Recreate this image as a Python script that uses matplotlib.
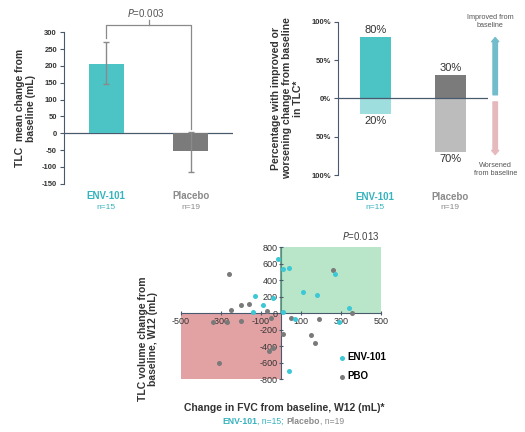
import matplotlib
matplotlib.use("Agg")
import matplotlib.pyplot as plt
from matplotlib.patches import Rectangle, FancyArrowPatch
from matplotlib.offsetbox import TextArea, HPacker, AnnotationBbox

plt.rcParams['font.family'] = ['Liberation Sans', 'DejaVu Sans']

# ---------------- data ----------------
groups = ["ENV-101", "Placebo"]
group_n = ["n=15", "n=19"]
tlc_mean = [207, -53]
tlc_err_low = [145, -115]
tlc_err_high = [270, 3]
p_bar = "0.003"

improved_pct = [80, 30]
worsened_pct = [20, 70]

env_fvc = [-12, 10, 40, 270, 110, 180, -130, -90, -40, -140, 10, 340, 70, 40, 290]
env_tlc = [660, 540, 545, 480, 255, 225, 215, 95, 180, 15, 15, 70, -70, -700, -105]
pbo_fvc = [-260, -250, -200, -160, -70, -340, -270, -200, -50, 260, 50, 190, 355, 10, 150, 170, -60, -40, -310]
pbo_tlc = [480, 40, 100, 110, 30, -110, -110, -95, -60, 525, -60, -65, 0, -255, -260, -355, -460, -425, -605]
p_scatter = "0.013"

left_ticks = [300, 250, 200, 150, 100, 50, 0, -50, -100, -150]
right_ticks = [100, 50, 0, -50, -100]
right_ticklabels = ["100%", "50%", "0%", "50%", "100%"]
sx_ticks = [-500, -300, -100, 100, 300, 500]
sy_ticks = [-800, -600, -400, -200, 0, 200, 400, 600, 800]

# ---------------- style ----------------
TEAL = "#4cc3c5"
TEAL_LIGHT = "#9fdede"
DGRAY = "#7b7b7b"
LGRAY = "#bcbcbc"
TEAL_TXT = "#35b3be"
GRAY_TXT = "#8a8a8a"
SPINE = "#4a5a6e"
PT_CYAN = "#3cc8d6"
PT_GRAY = "#7a7a7a"

fig = plt.figure(figsize=(5.25, 4.32), dpi=100)
W, H = 525, 432

def rect(l, r, t, b):
    return [l / W, 1 - b / H, (r - l) / W, (b - t) / H]

# ---------------- left chart ----------------
ax1 = fig.add_axes(rect(64, 233, 32.3, 183.7))
x = [0, 1]
yerr = [[m - lo for m, lo in zip(tlc_mean, tlc_err_low)],
        [hi - m for m, hi in zip(tlc_mean, tlc_err_high)]]
ax1.bar(x, tlc_mean, width=0.42, color=[TEAL, DGRAY], zorder=2)
ax1.errorbar(x, tlc_mean, yerr=yerr, fmt='none', ecolor="#8a8a8a", elinewidth=1,
             capsize=2.5, capthick=1, zorder=3)
ax1.axhline(0, color=SPINE, lw=0.9, zorder=1)
ax1.set_xlim(-0.5, 1.5)
ax1.set_ylim(-150, 300)
ax1.set_yticks(left_ticks)
ax1.set_yticklabels([str(t) for t in left_ticks], fontsize=5.5, fontweight='bold', color="#333333")
ax1.set_xticks([])
for s in ["top", "right", "bottom"]:
    ax1.spines[s].set_visible(False)
ax1.spines["left"].set_color(SPINE)
ax1.tick_params(axis='y', length=3, width=0.8, color=SPINE, pad=2)
ax1.patch.set_alpha(0)
ax1.set_ylabel("TLC  mean change from\nbaseline (mL)", fontsize=7.5, fontweight='bold',
               color="#333333", labelpad=4, linespacing=1.1)
# bracket
bc = "#8a8a8a"
ax1.plot([0, 0, 1, 1], [284, 323, 323, 14], color=bc, lw=0.9, clip_on=False)
ax1.plot([0.505, 0.505], [323, 337], color=bc, lw=0.9, clip_on=False)
ax1.text(0.47, 356, r"$\it{P}$=" + p_bar, ha='center', va='center', fontsize=7, color="#555555")
cols = [TEAL_TXT, GRAY_TXT]
for i in range(2):
    ax1.text(x[i], -0.081, groups[i], transform=ax1.get_xaxis_transform(), ha='center', va='center',
             fontsize=7, fontweight='bold', color=cols[i])
    ax1.text(x[i], -0.154, group_n[i], transform=ax1.get_xaxis_transform(), ha='center', va='center',
             fontsize=6, color=cols[i])

# ---------------- right chart ----------------
ax2 = fig.add_axes(rect(337.7, 487.7, 21.7, 175))
ax2.bar(x, improved_pct, width=0.41, color=[TEAL, DGRAY], zorder=2)
ax2.bar(x, [-v for v in worsened_pct], width=0.41, color=[TEAL_LIGHT, LGRAY], zorder=2)
ax2.axhline(0, color=SPINE, lw=0.9, zorder=3)
ax2.set_xlim(-0.5, 1.5)
ax2.set_ylim(-100, 100)
ax2.set_yticks(right_ticks)
ax2.set_yticklabels(right_ticklabels, fontsize=5.5, fontweight='bold', color="#333333")
ax2.set_xticks([])
for s in ["top", "right", "bottom"]:
    ax2.spines[s].set_visible(False)
ax2.spines["left"].set_color(SPINE)
ax2.tick_params(axis='y', length=3, width=0.8, color=SPINE, pad=2)
ax2.patch.set_alpha(0)
ax2.set_ylabel("Percentage with improved or\nworsening change from baseline\nin TLC*", fontsize=7.5,
               fontweight='bold', color="#333333", labelpad=6, linespacing=1.1)
for i in range(2):
    ax2.text(x[i], improved_pct[i] + 3, f"{improved_pct[i]}%", ha='center', va='bottom', fontsize=8, color="#333333")
    ax2.text(x[i], -worsened_pct[i] - 3, f"{worsened_pct[i]}%", ha='center', va='top', fontsize=8, color="#333333")
    ax2.text(x[i], -0.1416, groups[i], transform=ax2.get_xaxis_transform(), ha='center', va='center',
             fontsize=7, fontweight='bold', color=cols[i])
    ax2.text(x[i], -0.209, group_n[i], transform=ax2.get_xaxis_transform(), ha='center', va='center',
             fontsize=6, color=cols[i])
up = FancyArrowPatch((1.6, 1), (1.6, 83), arrowstyle='simple,head_width=5,head_length=3,tail_width=3.2',
                     color="#72bccb", clip_on=False, mutation_scale=1)
dn = FancyArrowPatch((1.6, -1), (1.6, -77), arrowstyle='simple,head_width=5,head_length=3,tail_width=3.2',
                     color="#e6babd", clip_on=False, mutation_scale=1)
ax2.add_patch(up)
ax2.add_patch(dn)
ax2.text(1.53, 100, "Improved from\nbaseline", ha='center', va='center', fontsize=5.2, color="#555555",
         linespacing=1.3)
ax2.text(1.6, -93, "Worsened\nfrom baseline", ha='center', va='center', fontsize=5.2, color="#555555",
         linespacing=1.3)

# ---------------- scatter ----------------
ax3 = fig.add_axes(rect(180.7, 381, 247.3, 379.3))
ax3.set_xlim(-500, 500)
ax3.set_ylim(-800, 800)
ax3.add_patch(Rectangle((0, 0), 500, 800, facecolor="#b9e6c8", edgecolor='none', zorder=0))
ax3.add_patch(Rectangle((-500, -800), 500, 800, facecolor="#e2a2a4", edgecolor='none', zorder=0))
ax3.spines['left'].set_position(('data', 0))
ax3.spines['bottom'].set_position(('data', 0))
for s in ["top", "right"]:
    ax3.spines[s].set_visible(False)
ax3.spines['left'].set_color(SPINE)
ax3.spines['bottom'].set_color(SPINE)
ax3.spines['left'].set_zorder(1)
ax3.spines['bottom'].set_zorder(1)
ax3.plot([0, 0], [0, 800], color="#5f9a80", lw=1.2, zorder=1.5)
ax3.set_xticks(sx_ticks)
ax3.set_xticklabels([str(t) for t in sx_ticks], fontsize=6.5, color="#333333")
ax3.set_yticks(sy_ticks)
ax3.set_yticklabels([str(t) for t in sy_ticks], fontsize=6.5, color="#333333")
ax3.tick_params(axis='both', length=3, width=0.8, color=SPINE, direction='inout', pad=1)
ax3.patch.set_alpha(0)
ax3.scatter(pbo_fvc, pbo_tlc, s=13, color=PT_GRAY, zorder=3, label="PBO", linewidths=0)
ax3.scatter(env_fvc, env_tlc, s=13, color=PT_CYAN, zorder=4, label="ENV-101", linewidths=0)
handles, labels = ax3.get_legend_handles_labels()
leg = ax3.legend(handles[::-1], labels[::-1], loc='lower left', bbox_to_anchor=(0.76, -0.045),
                 frameon=False, handletextpad=0.1, labelspacing=0.95, markerscale=1.0,
                 prop={'weight': 'bold', 'size': 7}, handlelength=1.0, borderaxespad=0)
ax3.text(0.898, 1.088, r"$\it{P}$=" + p_scatter, transform=ax3.transAxes, ha='center', va='center',
         fontsize=7, color="#444444")

fig.text(148 / W, 1 - 339 / H, "TLC volume change from\nbaseline, W12 (mL)", rotation=90,
         ha='center', va='center', fontsize=7.5, fontweight='bold', color="#333333", linespacing=1.1)
fig.text(283.8 / W, 1 - 407.7 / H, "Change in FVC from baseline, W12 (mL)*", ha='center', va='center',
         fontsize=7.5, fontweight='bold', color="#333333")

parts = [TextArea(groups[0], textprops=dict(color=TEAL_TXT, fontweight='bold', fontsize=6.2)),
         TextArea(", " + group_n[0] + "; ", textprops=dict(color=TEAL_TXT, fontsize=6.2)),
         TextArea(groups[1], textprops=dict(color=GRAY_TXT, fontweight='bold', fontsize=6.2)),
         TextArea(", " + group_n[1], textprops=dict(color=GRAY_TXT, fontsize=6.2))]
box = HPacker(children=parts, align='baseline', pad=0, sep=0)
ab = AnnotationBbox(box, (283 / W, 1 - 421 / H), xycoords='figure fraction', frameon=False,
                    box_alignment=(0.5, 0.5))
fig.add_artist(ab)

fig.savefig("out.png", dpi=100)
